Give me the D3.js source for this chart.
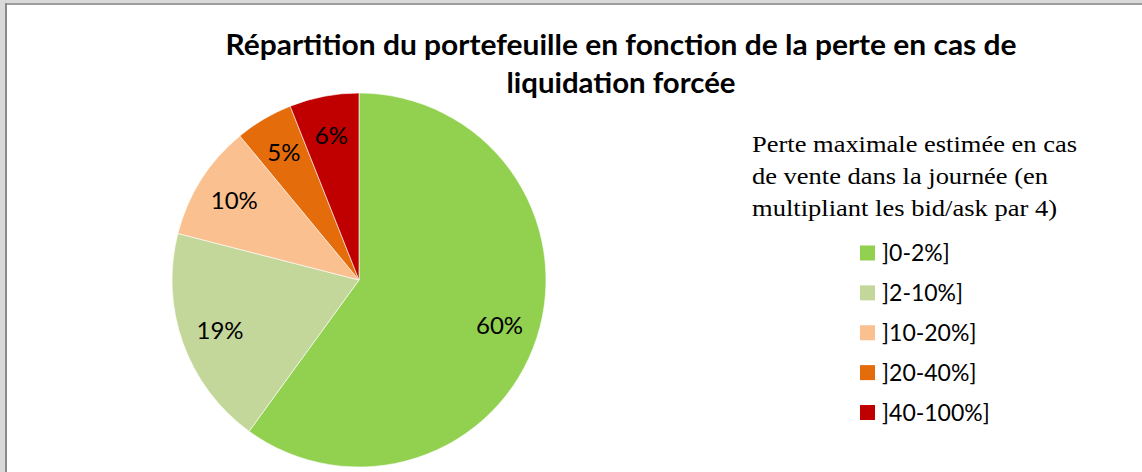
<!DOCTYPE html>
<html>
<head>
<meta charset="utf-8">
<script src="https://cdn.jsdelivr.net/npm/d3@7"></script>
<style>
  html, body { margin: 0; padding: 0; background: #fff; }
  svg { display: block; }
</style>
</head>
<body>
<div id="chart"></div>
<script>
// data
const categories = ["]0-2%]", "]2-10%]", "]10-20%]", "]20-40%]", "]40-100%]"];
const shares = [60, 19, 10, 5, 6];
const colors = ["#92D050", "#C4D79B", "#FAC090", "#E46C0A", "#C00000"];
const titleLines = ["Répartition du portefeuille en fonction de la perte en cas de", "liquidation forcée"];
const legendTitle = ["Perte maximale estimée en cas", "de vente dans la journée (en", "multipliant les bid/ask par 4)"];

const width = 1142;
const height = 472;

const svg = d3.select("#chart").append("svg")
    .attr("width", width)
    .attr("height", height);

// window frame
svg.append("rect").attr("width", width).attr("height", height).attr("fill", "#d9d9d9");
svg.append("rect").attr("x", 7).attr("y", 5).attr("width", width).attr("height", height).attr("fill", "#fff");
svg.append("line").attr("x1", 6).attr("x2", 6).attr("y1", 3).attr("y2", height)
    .attr("stroke", "#8a8a8a").attr("stroke-width", 2);
svg.append("line").attr("x1", 5).attr("x2", width).attr("y1", 4).attr("y2", 4)
    .attr("stroke", "#8a8a8a").attr("stroke-width", 1.5);

// squeeze or stretch a text to a given width
function fit(sel, w) {
    sel.attr("textLength", w).attr("lengthAdjust", "spacingAndGlyphs");
}

// title
const titleY = [55, 93];
const titleW = [791, 229];
titleLines.forEach((t, i) => {
    svg.append("text")
        .attr("x", 621)
        .attr("y", titleY[i])
        .attr("text-anchor", "middle")
        .attr("font-family", "Lato, 'Open Sans', sans-serif")
        .attr("font-weight", "bold")
        .attr("font-size", 28)
        .attr("fill", "#000")
        .text(t)
        .call(fit, titleW[i]);
});

// pie
const cx = 359, cy = 280, r = 187;
const pie = d3.pie().sort(null).value(d => d);
const arcs = pie(shares);
const arc = d3.arc().innerRadius(0).outerRadius(r);
const labelArc = d3.arc().innerRadius(r * 0.79).outerRadius(r * 0.79);

const g = svg.append("g").attr("transform", `translate(${cx},${cy})`);

g.selectAll("path")
    .data(arcs)
    .join("path")
        .attr("d", arc)
        .attr("fill", (d, i) => colors[i])
        .attr("stroke", "#fff")
        .attr("stroke-width", 0.6);

g.selectAll("text")
    .data(arcs)
    .join("text")
        .attr("transform", d => `translate(${labelArc.centroid(d)})`)
        .attr("text-anchor", "middle")
        .attr("dy", "0.36em")
        .attr("font-family", "Lato, 'Open Sans', sans-serif")
        .attr("font-size", 24)
        .attr("fill", "#000")
        .text(d => d.data + "%");

// legend title
const legendTitleW = [325, 296, 305];
legendTitle.forEach((t, i) => {
    svg.append("text")
        .attr("x", 752)
        .attr("y", 152 + i * 32)
        .attr("font-family", "'Liberation Serif', 'Times New Roman', serif")
        .attr("font-size", 23)
        .attr("fill", "#000")
        .text(t)
        .call(fit, legendTitleW[i]);
});

// legend items
const ly = d3.scalePoint().domain(categories).range([253, 412.5]);
const legend = svg.append("g");
const item = legend.selectAll("g")
    .data(categories)
    .join("g")
        .attr("transform", d => `translate(860,${ly(d)})`);

item.append("rect")
    .attr("x", 0)
    .attr("y", -7.5)
    .attr("width", 15)
    .attr("height", 15)
    .attr("fill", (d, i) => colors[i]);

item.append("text")
    .attr("x", 22)
    .attr("y", 0)
    .attr("dy", "0.36em")
    .attr("font-family", "Lato, 'Open Sans', sans-serif")
    .attr("font-size", 23)
    .attr("fill", "#000")
    .text(d => d);
</script>
</body>
</html>
